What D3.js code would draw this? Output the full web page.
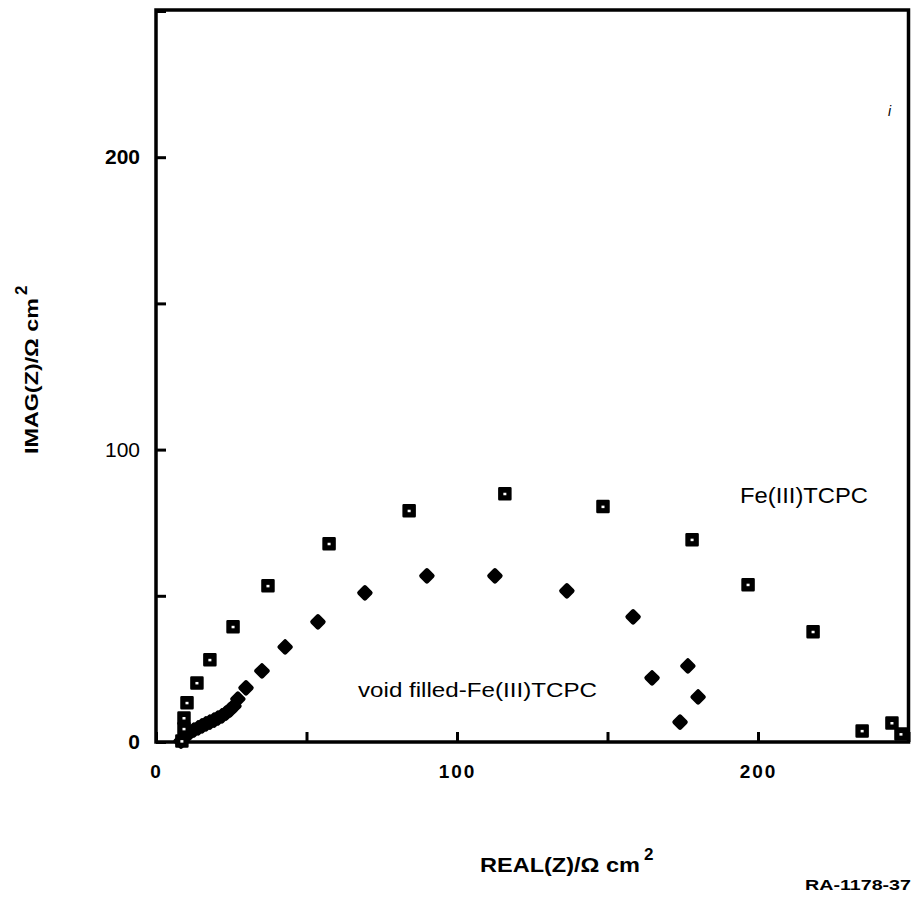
<!DOCTYPE html>
<html>
<head>
<meta charset="utf-8">
<script src="https://cdn.jsdelivr.net/npm/d3@7"></script>
<style>
  html, body { margin: 0; padding: 0; background: #fff; }
  svg { display: block; font-family: "Liberation Sans", Arial, Helvetica, sans-serif; }
</style>
</head>
<body>
<svg id="chart" width="913" height="898"></svg>
<script>
// ---- data ----
const squareReal = [8.6, 9.3, 9.3, 10.3, 13.6, 17.9, 25.6, 37.2, 57.5, 84.1, 115.9, 148.5, 178.1, 196.7, 218.3, 234.6, 244.5, 247.5];
const squareImag = [0.3, 4.5, 8.2, 13.4, 20.2, 28.1, 39.4, 53.4, 67.8, 79.1, 84.9, 80.5, 69.2, 53.8, 37.7, 3.8, 6.5, 2.7];

const diamondReal = [8.3, 9.3, 10.3, 11.3, 12.6, 14.0, 15.3, 16.6, 17.9, 19.3, 20.6, 21.9, 23.3, 24.6, 25.9, 27.2, 29.9, 35.2, 42.9, 53.8, 69.4, 90.0, 112.6, 136.5, 158.5, 164.8, 176.7, 180.1, 174.1];
const diamondImag = [0.3, 1.4, 2.4, 3.4, 4.1, 4.8, 5.5, 6.2, 6.8, 7.5, 8.2, 8.9, 9.9, 11.0, 12.3, 14.7, 18.5, 24.3, 32.5, 41.1, 51.0, 56.8, 56.8, 51.7, 42.8, 21.9, 26.0, 15.4, 6.8];

const xTicks = [0, 50, 100, 150, 200, 250];
const yTicks = [0, 50, 100, 150, 200, 250];
const xTickLabels = ["0", "", "100", "", "200", ""];
const yTickLabels = ["0", "", "100", "", "200", ""];

const seriesLabels = ["Fe(III)TCPC", "void filled-Fe(III)TCPC"];
const xTitle = "REAL(Z)/Ω cm";
const yTitle = "IMAG(Z)/Ω cm";
const figureId = "RA-1178-37";

// ---- layout ----
const svg = d3.select("#chart");
const mLeft = 156, mRight = 908.5, mTop = 10, mBottom = 742;
const x = d3.scaleLinear().domain([0, 250]).range([mLeft, mRight]);
const y = d3.scaleLinear().domain([0, 250]).range([mBottom, 11]);

// axes (ticks inward)
const xAxis = d3.axisBottom(x).tickValues(xTicks)
  .tickFormat((d, i) => xTickLabels[i]).tickSizeInner(-10).tickSizeOuter(0).tickPadding(23);
const gx = svg.append("g").attr("transform", `translate(0,${mBottom})`).call(xAxis);
gx.select(".domain").remove();
gx.selectAll(".tick line").attr("stroke", "#000").attr("stroke-width", 3);
gx.selectAll(".tick text").attr("fill", "#000").attr("font-size", 19).attr("font-weight", "bold")
  .attr("letter-spacing", 2).attr("font-family", "Liberation Sans, Arial, sans-serif");

const yAxis = d3.axisLeft(y).tickValues(yTicks)
  .tickFormat((d, i) => yTickLabels[i]).tickSizeInner(-10).tickSizeOuter(0).tickPadding(16);
const gy = svg.append("g").attr("transform", `translate(${mLeft},0)`).call(yAxis);
gy.select(".domain").remove();
gy.selectAll(".tick line").attr("stroke", "#000").attr("stroke-width", 3);
gy.selectAll(".tick text").attr("fill", "#000").attr("font-size", 21)
  .attr("font-weight", d => d === 100 ? "normal" : "bold")
  .attr("font-family", "Liberation Sans, Arial, sans-serif");

// frame
svg.append("rect").attr("x", mLeft).attr("y", mTop).attr("width", mRight - mLeft).attr("height", mBottom - mTop)
  .attr("fill", "none").attr("stroke", "#000").attr("stroke-width", 3.5);

// diamond markers (rounded diamonds)
const diamondSym = {
  draw(ctx, size) {
    const r = Math.sqrt(size / 2);
    ctx.moveTo(0, -r); ctx.lineTo(r, 0); ctx.lineTo(0, r); ctx.lineTo(-r, 0); ctx.closePath();
  }
};
const diamonds = diamondReal.map((v, i) => ({ re: v, im: diamondImag[i] }));
svg.append("g").selectAll("path").data(diamonds).join("path")
  .attr("transform", d => `translate(${x(d.re)},${y(d.im)})`)
  .attr("d", d3.symbol().type(diamondSym).size(60))
  .attr("fill", "#000").attr("stroke", "#000").attr("stroke-width", 4.5).attr("stroke-linejoin", "round");

// square markers
const squares = squareReal.map((v, i) => ({ re: v, im: squareImag[i] }));
const sq = svg.append("g").selectAll("g").data(squares).join("g")
  .attr("transform", d => `translate(${x(d.re)},${y(d.im)})`);
sq.append("path").attr("d", d3.symbol().type(d3.symbolSquare).size(121))
  .attr("fill", "#000").attr("stroke", "#000").attr("stroke-width", 2.5).attr("stroke-linejoin", "round");
sq.append("rect").attr("x", -1.5).attr("y", -1).attr("width", 3).attr("height", 2.5).attr("fill", "#fff");

// series labels
svg.append("text").attr("x", 740).attr("y", 503).attr("font-size", 22)
  .attr("textLength", 128).attr("lengthAdjust", "spacingAndGlyphs").text(seriesLabels[0]);
svg.append("text").attr("x", 358).attr("y", 697).attr("font-size", 20)
  .attr("textLength", 239).attr("lengthAdjust", "spacingAndGlyphs").text(seriesLabels[1]);

// axis titles
const xt = svg.append("text").attr("x", 480).attr("y", 872).attr("font-size", 20).attr("font-weight", "bold");
xt.append("tspan").attr("textLength", 160).attr("lengthAdjust", "spacingAndGlyphs").text(xTitle);
xt.append("tspan").attr("dx", 4).attr("dy", -12).attr("font-size", 17).text("2");

const yt = svg.append("text").attr("transform", "translate(38,454) rotate(-90)")
  .attr("font-size", 19).attr("font-weight", "bold");
yt.append("tspan").attr("textLength", 156).attr("lengthAdjust", "spacingAndGlyphs").text(yTitle);
yt.append("tspan").attr("dx", 3).attr("dy", -11).attr("font-size", 17).text("2");

// figure id
svg.append("text").attr("x", 805).attr("y", 890).attr("font-size", 15).attr("font-weight", "bold")
  .attr("textLength", 106).attr("lengthAdjust", "spacingAndGlyphs").text(figureId);

// small stray mark at right edge
svg.append("text").attr("x", 888).attr("y", 116).attr("font-size", 14).attr("font-style", "italic").text("i");
</script>
</body>
</html>
